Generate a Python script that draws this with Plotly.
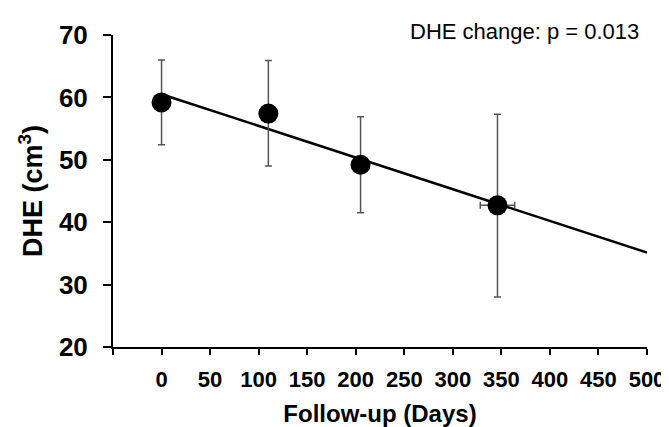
import numpy as np
import plotly.graph_objects as go

# Data
days = [0, 110, 205, 346]
dhe = [59.2, 57.4, 49.2, 42.7]
err_up = [6.8, 8.5, 7.7, 14.6]
err_down = [6.8, 8.4, 7.7, 14.7]
days_err = [0, 0, 0, 17.7]
trend_x = [0, 500]
xtick_vals = [0, 50, 100, 150, 200, 250, 300, 350, 400, 450, 500]
x_extra_tick = [-50]
ytick_vals = [20, 30, 40, 50, 60, 70]

slope, intercept = np.polyfit(days, dhe, 1)
trend_y = [intercept + slope * x for x in trend_x]

fig = go.Figure()
fig.add_trace(go.Scatter(x=trend_x, y=trend_y, mode="lines",
                         line=dict(color="black", width=2.5), showlegend=False))
fig.add_trace(go.Scatter(
    x=days, y=dhe, mode="markers",
    marker=dict(color="black", size=20),
    error_y=dict(type="data", symmetric=False, array=err_up, arrayminus=err_down,
                 color="#555555", thickness=1.5, width=3.5),
    error_x=dict(type="data", array=days_err, color="#555555", thickness=1.5, width=3.5),
    showlegend=False))

font_family = "Liberation Sans, Arial, sans-serif"
fig.update_layout(
    width=669, height=427,
    margin=dict(l=105, r=20, t=16, b=86),
    paper_bgcolor="white", plot_bgcolor="white",
    font=dict(family=font_family, color="black"),
    xaxis=dict(range=[-50, 500], tickvals=xtick_vals,
               showgrid=False, zeroline=False, showline=True, linecolor="black", linewidth=2,
               ticks="outside", ticklen=6, tickwidth=2, tickcolor="black",
               minor=dict(tickvals=x_extra_tick, ticks="outside", ticklen=6, tickwidth=2,
                          tickcolor="black", showgrid=False),
               tickfont=dict(size=22, family=font_family, weight="bold"),
               ticklabelstandoff=6,
               title=dict(text="<b>Follow-up (Days)</b>", font=dict(size=24), standoff=14)),
    yaxis=dict(range=[20, 70], tickvals=ytick_vals,
               showgrid=False, zeroline=False, showline=True, linecolor="black", linewidth=2,
               ticks="outside", ticklen=8, tickwidth=2, tickcolor="black",
               tickfont=dict(size=26, family=font_family, weight="bold"),
               ticklabelstandoff=10,
               title=dict(text="<b>DHE (cm<sup>3</sup>)</b>", font=dict(size=27), standoff=8)),
    annotations=[dict(text="DHE change: p = 0.013", xref="paper", yref="paper",
                      x=0.989, y=1.011, xanchor="right", yanchor="middle",
                      showarrow=False, font=dict(size=22, family=font_family))],
)

fig.write_html("out.html")
